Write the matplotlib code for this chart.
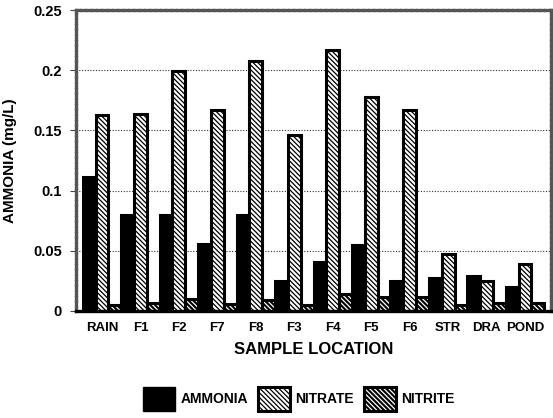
import matplotlib
matplotlib.use("Agg")
import matplotlib.pyplot as plt
import numpy as np
from matplotlib.patches import Patch

plt.rcParams['font.family'] = ['Liberation Sans', 'DejaVu Sans']
plt.rcParams['font.weight'] = 'bold'
plt.rcParams['hatch.linewidth'] = 0.9

locations = ["RAIN", "F1", "F2", "F7", "F8", "F3", "F4", "F5", "F6", "STR", "DRA", "POND"]
ammonia = [0.111, 0.080, 0.080, 0.056, 0.080, 0.025, 0.041, 0.055, 0.025, 0.027, 0.029, 0.020]
nitrate = [0.163, 0.164, 0.199, 0.167, 0.208, 0.146, 0.217, 0.178, 0.167, 0.047, 0.025, 0.039]
nitrite = [0.005, 0.007, 0.010, 0.006, 0.009, 0.005, 0.014, 0.012, 0.012, 0.005, 0.007, 0.007]
yticks = [0, 0.05, 0.1, 0.15, 0.2, 0.25]
ytick_labels = ["0", "0.05", "0.1", "0.15", "0.2", "0.25"]

fig = plt.figure(figsize=(5.53, 4.18), dpi=100)
ax = fig.add_axes([76/553, 1-311/418, 475/553, 301/418])

x = np.arange(len(locations))
w = 1/3
hatch = '\\' * 7
edge_lw = 2.2

ax.bar(x - w, ammonia, w, color='black', edgecolor='black', linewidth=edge_lw, zorder=3)
ax.bar(x, nitrate, w, color='white', edgecolor='black', hatch=hatch, linewidth=0, zorder=3)
ax.bar(x, nitrate, w, fill=False, edgecolor='black', linewidth=edge_lw, zorder=4)
ax.bar(x + w, nitrite, w, color='black', edgecolor='white', hatch=hatch, linewidth=0, zorder=3)
ax.bar(x + w, nitrite, w, fill=False, edgecolor='black', linewidth=edge_lw, zorder=4)

ax.set_xlim(-0.674, 11.674)
ax.set_ylim(0, 0.25)
ax.set_yticks(yticks)
ax.set_yticklabels(ytick_labels, fontsize=10.5, fontweight='bold')
ax.set_xticks(x)
ax.set_xticklabels(locations, fontsize=9.5, fontweight='bold')
ax.tick_params(axis='x', length=0, pad=8)
ax.tick_params(axis='y', length=4, width=0.8, color='#444444', pad=6)

ax.yaxis.grid(True, linestyle=(0, (1, 1.5)), color='#333333', linewidth=0.8, zorder=0)
ax.set_axisbelow(True)

for side in ['left', 'top', 'right']:
    ax.spines[side].set_color('#555555')
    ax.spines[side].set_linewidth(2.4)
    ax.spines[side].set_linestyle((0, (1, 0.6)))
ax.spines['bottom'].set_color('black')
ax.spines['bottom'].set_linewidth(2.4)
ax.spines['bottom'].set_zorder(5)

ax.set_ylabel("AMMONIA (mg/L)", fontsize=11, fontweight='bold')
ax.yaxis.set_label_coords(-(76-17.5)/475, 0.5)
ax.set_xlabel("SAMPLE LOCATION", fontsize=12, fontweight='bold')
ax.xaxis.set_label_coords(0.5, -(341.7-311)/301)

h_amm = Patch(facecolor='black', edgecolor='black', linewidth=1)
h_nitrate = (Patch(facecolor='white', edgecolor='black', hatch=hatch, linewidth=0),
             Patch(fill=False, edgecolor='black', linewidth=edge_lw))
h_nitrite = (Patch(facecolor='black', edgecolor='white', hatch=hatch, linewidth=0),
             Patch(fill=False, edgecolor='black', linewidth=edge_lw))
fig.legend([h_amm, h_nitrate, h_nitrite], ["AMMONIA", "NITRATE", "NITRITE"],
           loc='center', bbox_to_anchor=(299/553, 1-399/418), ncol=3, frameon=False,
           prop={'size': 10, 'weight': 'bold'}, handlelength=2.3, handleheight=2.3,
           handletextpad=0.4, columnspacing=0.7, borderpad=0)

fig.savefig("out.png", dpi=100)
